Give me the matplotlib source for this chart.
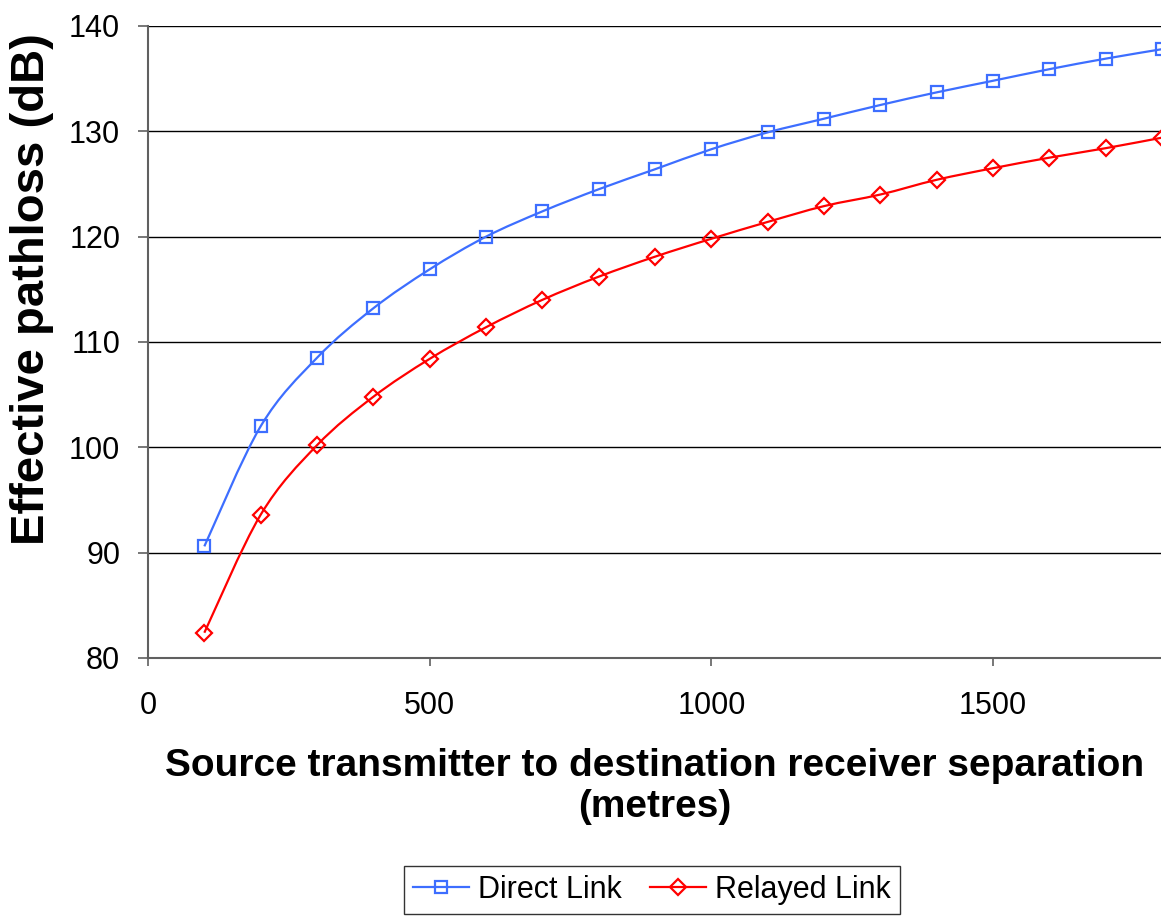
import matplotlib
matplotlib.use("Agg")
import matplotlib.pyplot as plt
from matplotlib.lines import Line2D
from matplotlib.path import Path
from matplotlib.patches import PathPatch

plt.rcParams["font.family"] = ["Liberation Sans", "DejaVu Sans"]

separation_m = [100, 200, 300, 400, 500, 600, 700, 800, 900, 1000,
                1100, 1200, 1300, 1400, 1500, 1600, 1700, 1800]
direct_db = [90.6, 102.0, 108.5, 113.2, 116.9, 120.0, 122.4, 124.5, 126.4, 128.3,
             129.9, 131.2, 132.5, 133.7, 134.8, 135.9, 136.9, 137.8]
relayed_db = [82.4, 93.6, 100.2, 104.8, 108.4, 111.4, 114.0, 116.2, 118.1, 119.8,
              121.4, 122.9, 124.0, 125.4, 126.5, 127.5, 128.4, 129.4]

x_ticks = [0, 500, 1000, 1500]
y_ticks = [80, 90, 100, 110, 120, 130, 140]

BLUE = "#3D6EFF"
RED = "#FF0000"


def smooth_path(xs, ys):
    # bezier path through the points (same idea as spreadsheet "smoothed line")
    pts = list(zip(xs, ys))
    verts = [pts[0]]
    codes = [Path.MOVETO]
    n = len(pts)
    for i in range(n - 1):
        p0 = pts[i - 1] if i > 0 else pts[i]
        p1 = pts[i]
        p2 = pts[i + 1]
        p3 = pts[i + 2] if i + 2 < n else pts[i + 1]
        c1 = (p1[0] + (p2[0] - p0[0]) / 6, p1[1] + (p2[1] - p0[1]) / 6)
        c2 = (p2[0] - (p3[0] - p1[0]) / 6, p2[1] - (p3[1] - p1[1]) / 6)
        verts += [c1, c2, p2]
        codes += [Path.CURVE4] * 3
    return Path(verts, codes)


fig = plt.figure(figsize=(11.61, 9.16), dpi=100)
ax = fig.add_axes([148 / 1161, 1 - 658 / 916, 1014 / 1161, 632 / 916])

for ys, color, marker, ms in [(direct_db, BLUE, "s", 9), (relayed_db, RED, "D", 8)]:
    ax.add_patch(PathPatch(smooth_path(separation_m, ys), fill=False, edgecolor=color,
                           lw=1.6, clip_on=False, zorder=3))
    ax.plot(separation_m, ys, ls="none", marker=marker, ms=ms, mfc="none", mec=color,
            mew=1.6, clip_on=False, zorder=4)

ax.set_xlim(0, 1800)
ax.set_ylim(80, 140)
ax.set_xticks(x_ticks)
ax.set_yticks(y_ticks)
ax.yaxis.grid(True, color="black", lw=1.0)
ax.set_axisbelow(True)

for side in ["top", "right"]:
    ax.spines[side].set_visible(False)
for side in ["left", "bottom"]:
    ax.spines[side].set_color("#606060")
    ax.spines[side].set_linewidth(1.5)

ax.tick_params(axis="y", labelsize=22, length=7, width=1.2, color="#606060", pad=13)
ax.tick_params(axis="x", labelsize=22, length=6, width=1.2, color="#606060", pad=18)

ax.set_ylabel("Effective pathloss (dB)", fontsize=34, fontweight="bold")
ax.yaxis.set_label_coords((54 - 148) / 1014, (658 - 289) / 632)
ax.set_xlabel("Source transmitter to destination receiver separation\n(metres)",
              fontsize=28, fontweight="bold", labelpad=19, linespacing=1.18)

handles = [
    Line2D([], [], color=BLUE, lw=1.6, marker="s", ms=9, mfc="none", mec=BLUE, mew=1.6),
    Line2D([], [], color=RED, lw=1.6, marker="D", ms=8, mfc="none", mec=RED, mew=1.6),
]
leg = fig.legend(handles, ["Direct Link", "Relayed Link"], loc="upper center",
                 bbox_to_anchor=(652 / 1161, 1 - 866 / 916), ncol=2,
                 fontsize=22, frameon=True, fancybox=False, edgecolor="black",
                 handlelength=1.85, columnspacing=0.9, handletextpad=0.3, borderpad=0.3,
                 borderaxespad=0)
leg.get_frame().set_linewidth(1.0)

fig.savefig("out.png", dpi=100)
